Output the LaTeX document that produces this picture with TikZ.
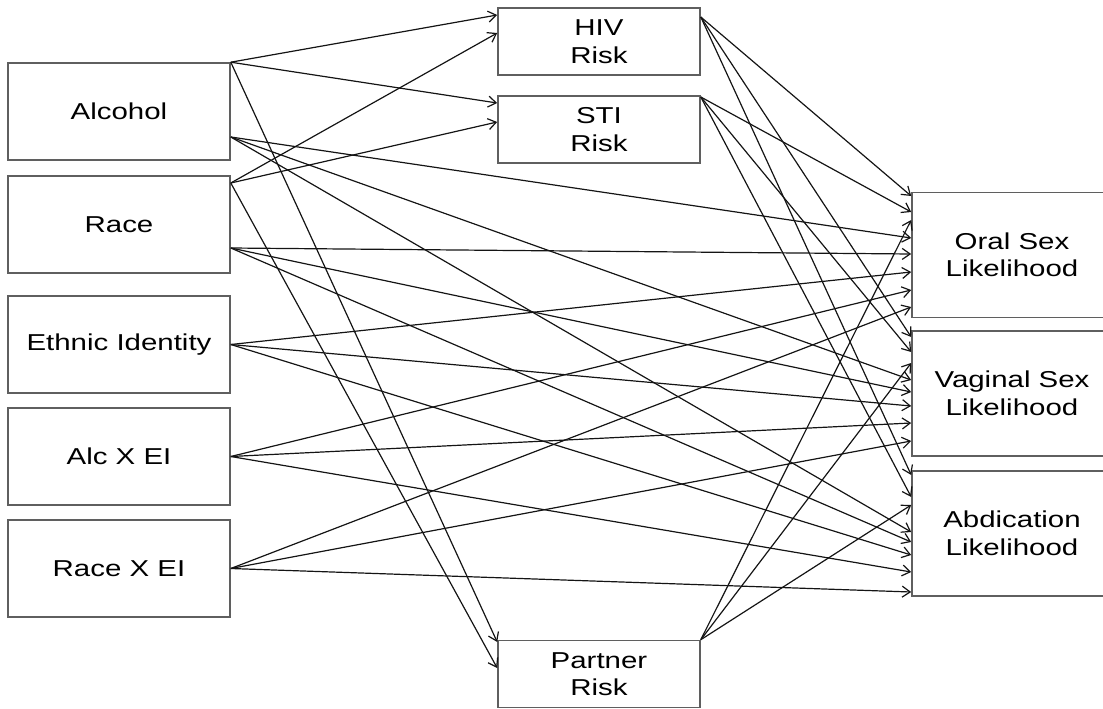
\documentclass[tikz,border=0pt]{standalone}
\usepackage{fontspec}
\setmainfont{Liberation Sans}[FakeStretch=1.28]
\usepackage{tikz}
\usetikzlibrary{arrows.meta, calc}
\definecolor{boxgray}{RGB}{95,95,95}
\definecolor{linedark}{RGB}{20,20,20}
\tikzset{
  varbox/.style={rectangle, draw=boxgray, fill=white, line width=1.6pt,
    align=center, inner sep=0pt, font=\fontsize{23}{27.5}\selectfont},
  leftbox/.style={varbox, minimum width=222pt, minimum height=97pt},
  midbox/.style={varbox, minimum width=202pt, minimum height=67pt},
  outbox/.style={varbox, minimum width=200pt, minimum height=125pt},
  pathline/.style={-{Straight Barb[length=8pt, width=11pt]}, line width=1.2pt, color=linedark}
}

\begin{document}
\begin{tikzpicture}[x=1pt, y=-1pt]
  \useasboundingbox (0,0) rectangle (1103,709);
  \clip (0,0) rectangle (1103,709);

  % Predictors
  \node[leftbox] (alc)    at (119,111.5) {Alcohol};
  \node[leftbox] (race)   at (119,224.5) {Race};
  \node[leftbox] (eth)    at (119,344.5) {Ethnic Identity};
  \node[leftbox] (alcei)  at (119,456.5) {Alc X EI};
  \node[leftbox] (raceei) at (119,568.5) {Race X EI};

  % Mediators
  \node[midbox] (hiv)     at (599,41.5)  {HIV\\Risk};
  \node[midbox] (sti)     at (599,129.5) {STI\\Risk};
  \node[midbox] (partner) at (599,674)   {Partner\\Risk};

  % Outcomes
  \node[outbox] (oral) at (1012,255)   {Oral Sex\\Likelihood};
  \node[outbox] (vag)  at (1012,393.5) {Vaginal Sex\\Likelihood};
  \node[outbox] (abd)  at (1012,533.5) {Abdication\\Likelihood};

  % Start points of the paths
  \coordinate (alc-a)     at (alc.north east);
  \coordinate (alc-b)     at ($(alc.east)+(0,25.5)$);
  \coordinate (race-a)    at ($(race.east)+(0,-41.5)$);
  \coordinate (race-b)    at ($(race.east)+(0,23.5)$);
  \coordinate (eth-a)     at (eth.east);
  \coordinate (alcei-a)   at (alcei.east);
  \coordinate (raceei-a)  at (raceei.east);
  \coordinate (hiv-a)     at ($(hiv.east)+(0,-24.5)$);
  \coordinate (sti-a)     at ($(sti.east)+(0,-32.5)$);
  \coordinate (partner-a) at (partner.north east);

  % Predictors to mediators
  \foreach \s/\t/\dy in {alc-a/hiv/-26.5, race-a/hiv/-8.5, alc-a/sti/-26.5,
                         race-a/sti/-7.5, alc-a/partner/-32, race-a/partner/-6}
    \draw[pathline] (\s) -- ($(\t.west)+(0,\dy)$);

  % Paths to outcomes
  \foreach \s/\dy in {hiv-a/-59, sti-a/-43, partner-a/-35, alc-b/-17,
                      race-b/-1, eth-a/17, alcei-a/35, raceei-a/52}
    \draw[pathline] (\s) -- ($(oral.west)+(0,\dy)$);
  \foreach \s/\dy in {hiv-a/-56.5, sti-a/-41.5, partner-a/-30.5, alc-b/-13.5,
                      race-b/-1.5, eth-a/12.5, alcei-a/29.5, raceei-a/47.5}
    \draw[pathline] (\s) -- ($(vag.west)+(0,\dy)$);
  \foreach \s/\dy in {hiv-a/-58.5, sti-a/-36.5, partner-a/-28.5, alc-b/-1.5,
                      race-b/8.5, eth-a/21.5, alcei-a/38.5, raceei-a/58.5}
    \draw[pathline] (\s) -- ($(abd.west)+(0,\dy)$);
\end{tikzpicture}
\end{document}
